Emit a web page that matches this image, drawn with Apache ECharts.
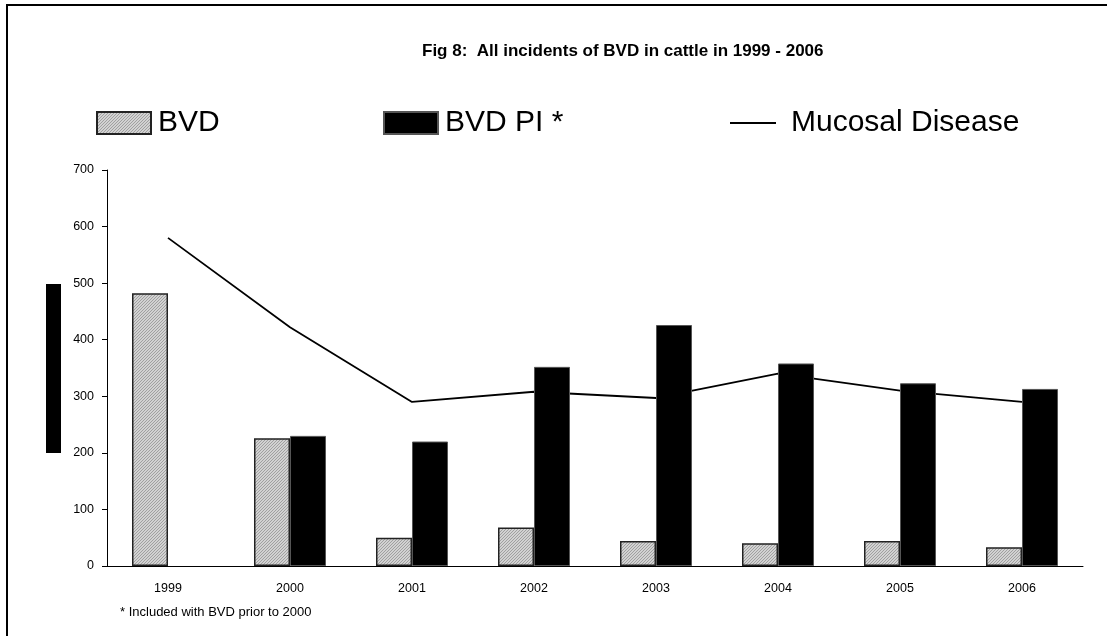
<!DOCTYPE html>
<html>
<head>
<meta charset="utf-8">
<title>Fig 8</title>
<script src="https://cdn.jsdelivr.net/npm/echarts@6/dist/echarts.min.js"></script>
<style>
  html, body { margin: 0; padding: 0; background: #fff; }
  #main { width: 1107px; height: 636px; }
</style>
</head>
<body>
<div id="main"></div>
<script>
// data
var years = ['1999', '2000', '2001', '2002', '2003', '2004', '2005', '2006'];
var bvd = [482, 226, 50, 68, 44, 40, 44, 33];
var bvdPi = [null, 230, 220, 352, 426, 358, 323, 313];
var mucosal = [580, 422, 290, 308, 297, 340, 310, 290];
var yTicks = [0, 700, 100];   // min, max, interval

var dom = document.getElementById('main');
var myChart = echarts.init(dom);

// fine grey hatch like the old excel fill
var pat = document.createElement('canvas');
pat.width = 3; pat.height = 3;
var ctx = pat.getContext('2d');
ctx.fillStyle = '#d2d2d2';
ctx.fillRect(0, 0, 3, 3);
ctx.fillStyle = '#a0a0a0';
for (var i = 0; i < 3; i++) {
    ctx.fillRect(i, 2 - i, 1, 1);
}
var hatch = { image: pat, repeat: 'repeat' };

var font = 'Liberation Sans, Arial, sans-serif';
var legendText = { fontSize: 30, color: '#000', fontFamily: font, padding: [0, 0, 0, 2] };

var option = {
    animation: false,
    backgroundColor: '#fff',
    textStyle: { fontFamily: font, color: '#000' },
    title: {
        text: 'Fig 8:  All incidents of BVD in cattle in 1999 - 2006',
        left: 422,
        top: 43,
        padding: 0,
        textStyle: { fontSize: 17, fontWeight: 'bold', color: '#000', fontFamily: font }
    },
    legend: [
        {
            data: [{ name: 'BVD', icon: 'rect' }], left: 91, top: 103,
            itemWidth: 54, itemHeight: 22, textStyle: legendText
        },
        {
            data: [{ name: 'BVD PI *', icon: 'rect' }], left: 378, top: 103,
            itemWidth: 54, itemHeight: 22, textStyle: legendText
        },
        {
            data: [{ name: 'Mucosal Disease', icon: 'path://M0,0 L46,0 L46,2 L0,2 Z' }],
            left: 725, top: 103, itemWidth: 46, itemHeight: 22,
            textStyle: { fontSize: 30, color: '#000', fontFamily: font, padding: [0, 0, 0, 10] }
        }
    ],
    grid: { left: 107, right: 24, top: 170, bottom: 70 },
    xAxis: {
        type: 'category',
        data: years,
        axisLine: { lineStyle: { color: '#000', width: 1 } },
        axisTick: { length: 5, lineStyle: { color: '#000' } },
        axisLabel: { fontSize: 12.5, color: '#000', margin: 16, fontFamily: font }
    },
    yAxis: {
        type: 'value',
        min: yTicks[0],
        max: yTicks[1],
        interval: yTicks[2],
        splitLine: { show: false },
        axisLine: { show: true, lineStyle: { color: '#000', width: 1 } },
        axisTick: { show: true, length: 5, lineStyle: { color: '#000' } },
        axisLabel: { fontSize: 12.5, color: '#000', margin: 13, fontFamily: font }
    },
    series: [
        {
            name: 'BVD',
            type: 'bar',
            data: bvd,
            barWidth: 36,
            barGap: '0%',
            itemStyle: { color: hatch, borderColor: '#222', borderWidth: 1.5 }
        },
        {
            name: 'BVD PI *',
            type: 'bar',
            data: bvdPi,
            barWidth: 36,
            barGap: '0%',
            itemStyle: { color: '#000', borderColor: '#555', borderWidth: 1 }
        },
        {
            name: 'Mucosal Disease',
            type: 'line',
            data: mucosal,
            symbol: 'none',
            z: 1,
            lineStyle: { color: '#000', width: 1.8 },
            itemStyle: { color: '#000' }
        }
    ],
    graphic: [
        // outer frame (only left and top edges fall inside the picture)
        {
            type: 'rect', silent: true,
            shape: { x: 7, y: 5, width: 1200, height: 700 },
            style: { fill: 'none', stroke: '#000', lineWidth: 2 }
        },
        // black block left of the axis
        {
            type: 'rect', silent: true,
            shape: { x: 46, y: 284, width: 15, height: 169 },
            style: { fill: '#000' }
        },
        {
            type: 'text', left: 120, top: 606,
            style: { text: '* Included with BVD prior to 2000', fill: '#000', font: '13px ' + font }
        }
    ]
};

myChart.setOption(option);

window.addEventListener('resize', function () {
    myChart.resize();
});
</script>
</body>
</html>
